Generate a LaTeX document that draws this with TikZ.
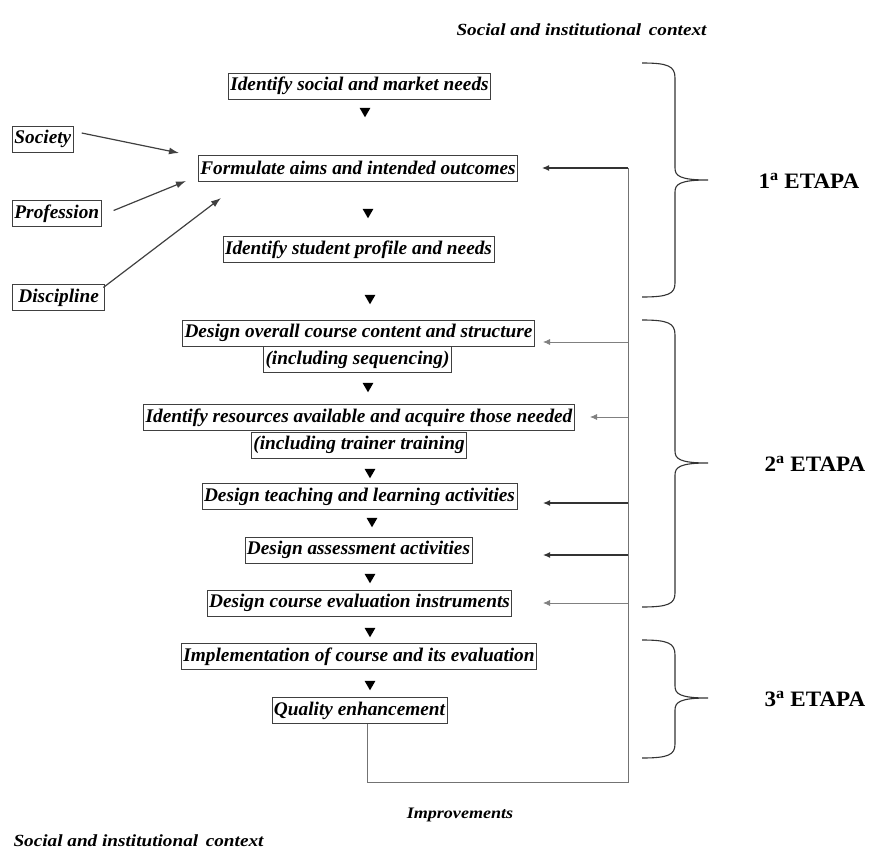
\documentclass[tikz,border=0pt]{standalone}
\usepackage{fontspec}
\setmainfont{Liberation Serif}
\newfontfamily\widelbl[FakeStretch=1.13]{Liberation Serif}
\newfontfamily\wideetapa[FakeStretch=1.05]{Liberation Serif}
\usetikzlibrary{arrows.meta,shapes.geometric}
\begin{document}
\begin{tikzpicture}[x=1pt,y=-1pt,
  box/.style={draw=black!75, line width=0.9pt, fill=white, inner xsep=2pt, inner ysep=0pt,
    minimum height=26pt, font=\fontsize{19.3}{21}\selectfont\bfseries\itshape},
  tri/.style={regular polygon, regular polygon sides=3, shape border rotate=180,
    fill=black, inner sep=0pt, minimum size=12.5pt},
  inarr/.style={draw=black!75, line width=1.2pt, -{Latex[length=10pt,width=7pt]}},
  fbdark/.style={draw=black!80, line width=1.2pt, -{Latex[length=7pt,width=6pt]}},
  fblight/.style={draw=black!50, line width=0.8pt, -{Latex[length=7pt,width=6pt]}},
  loopline/.style={draw=black!55, line width=1pt},
  brc/.style={draw=black!80, line width=1.1pt},
  lbl/.style={font=\widelbl\fontsize{17}{19}\selectfont\bfseries\itshape},
  etapa/.style={font=\wideetapa\fontsize{22}{24}\selectfont\bfseries},
]
\useasboundingbox (0,0) rectangle (875,851);

% main boxes
\node[box] (n1) at (359.5,86) {Identify social and market needs};
\node[box] (n2) at (358,168) {Formulate aims and intended outcomes};
\node[box] (n3) at (358.5,249.5) {Identify student profile and needs};
\node[box] (n4a) at (358.5,333) {Design overall course content and structure};
\node[box] (n4b) at (357.5,359.5) {(including sequencing)};
\node[box] (n5a) at (359,417.5) {Identify resources available and acquire those needed};
\node[box] (n5b) at (359,445) {(including trainer training};
\node[box] (n6) at (359.5,496.5) {Design teaching and learning activities};
\node[box] (n7) at (358.5,550) {Design assessment activities};
\node[box] (n8) at (359.5,603) {Design course evaluation instruments};
\node[box] (n9) at (359,656.5) {Implementation of course and its evaluation};
\node[box] (n10) at (359.5,710.5) {Quality enhancement};

% left inputs
\node[box, anchor=west] (soc) at (12,139) {Society};
\node[box, anchor=west] (prof) at (12,213.5) {Profession};
\node[box, anchor=west, inner xsep=6pt] (disc) at (12,297.5) {Discipline};

% flow triangles
\node[tri] (t1) at (365,111) {};
\node[tri] (t2) at (368,212) {};
\node[tri] (t3) at (370,298) {};
\node[tri] (t4) at (368,386) {};
\node[tri] (t5) at (370,472) {};
\node[tri] (t6) at (372,521) {};
\node[tri] (t7) at (370,577) {};
\node[tri] (t8) at (370,631) {};
\node[tri] (t9) at (370,684) {};

% input arrows
\coordinate (is) at (179,153);
\coordinate (ip) at (186,181);
\coordinate (id) at (221,198);
\draw[inarr] ([shift={(8,-6)}]soc.east) -- (is);
\draw[inarr] ([shift={(12,-3)}]prof.east) -- (ip);
\draw[inarr] ([shift={(-2,-10)}]disc.east) -- (id);

% feedback loop
\coordinate (qb) at (367,782);
\coordinate (sb) at (628,782);
\coordinate (a2) at (542,168);
\coordinate (a4) at (543,342);
\coordinate (a5) at (590,417);
\coordinate (a6) at (543,503);
\coordinate (a7) at (543,555);
\coordinate (a8) at (543,603);
\draw[loopline] (n10.south -| qb) -- (qb) -- (sb) -- (sb |- a2);
\draw[fbdark] (sb |- a2) -- (a2);
\draw[fblight] (sb |- a4) -- (a4);
\draw[fblight] (sb |- a5) -- (a5);
\draw[fbdark] (sb |- a6) -- (a6);
\draw[fbdark] (sb |- a7) -- (a7);
\draw[fblight] (sb |- a8) -- (a8);

% braces
\draw[brc] (642,63) .. controls (668,63) and (675,66) .. (675,78) -- (675,168)
  .. controls (675,176) and (680,180) .. (708,180)
  .. controls (680,180) and (675,184) .. (675,192) -- (675,283)
  .. controls (675,294) and (668,297) .. (642,297);
\draw[brc] (642,320) .. controls (668,320) and (675,323) .. (675,335) -- (675,451)
  .. controls (675,459) and (680,463) .. (708,463)
  .. controls (680,463) and (675,467) .. (675,475) -- (675,593)
  .. controls (675,604) and (668,607) .. (642,607);
\draw[brc] (642,640) .. controls (668,640) and (675,643) .. (675,655) -- (675,686)
  .. controls (675,694) and (680,698) .. (708,698)
  .. controls (680,698) and (675,702) .. (675,710) -- (675,744)
  .. controls (675,755) and (668,758) .. (642,758);

% labels
\node[etapa, anchor=west] (e1) at (755,181) {1\textsuperscript{a} ETAPA};
\node[etapa, anchor=west] (e2) at (761,464) {2\textsuperscript{a} ETAPA};
\node[etapa, anchor=west] (e3) at (761,699) {3\textsuperscript{a} ETAPA};
\node[lbl, anchor=west] (ctop) at (453,30) {Social and institutional\, context};
\node[lbl, anchor=west] (cbot) at (10,841) {Social and institutional\, context};
\node[lbl, font=\widelbl\fontsize{16}{18}\selectfont\bfseries\itshape] (imp) at (460,815) {Improvements};
\end{tikzpicture}
\end{document}
